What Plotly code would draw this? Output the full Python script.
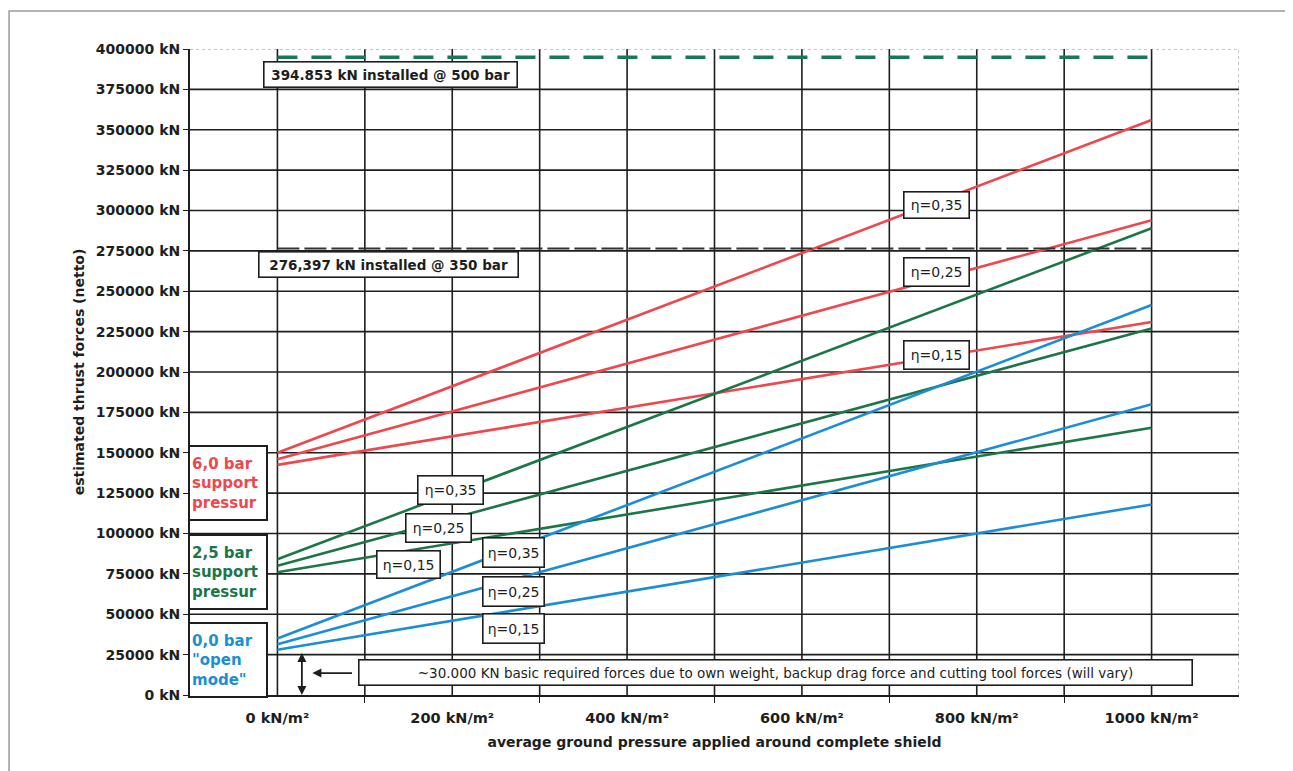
import plotly.graph_objects as go

# ---------------- data ----------------
ground_pressure = [0, 1000]  # kN/m²

red_eta035 = [150000, 356000]
red_eta025 = [146000, 294000]
red_eta015 = [142500, 231000]

green_eta035 = [84000, 289000]
green_eta025 = [80000, 227000]
green_eta015 = [76000, 165500]

blue_eta035 = [35000, 241500]
blue_eta025 = [31500, 180000]
blue_eta015 = [28000, 118000]

installed_500bar = [394853, 394853]
installed_350bar = [276397, 276397]

x_tick_vals = [0, 200, 400, 600, 800, 1000]
x_tick_text = ["0 kN/m²", "200 kN/m²", "400 kN/m²", "600 kN/m²", "800 kN/m²", "1000 kN/m²"]
x_minor_vals = [100, 300, 500, 700, 900]
x_grid_vals = [0, 100, 200, 300, 400, 500, 600, 700, 800, 900, 1000]
y_tick_vals = [0, 25000, 50000, 75000, 100000, 125000, 150000, 175000, 200000,
               225000, 250000, 275000, 300000, 325000, 350000, 375000, 400000]
y_tick_text = [f"{v} kN" for v in y_tick_vals]

X_RANGE = [-100, 1100]
Y_RANGE = [0, 400000]

RED = "rgb(236,72,78)"
GREEN = "rgb(28,118,72)"
BLUE = "rgb(28,142,212)"
DASH_GREEN = "rgb(22,120,84)"
INK = "#1e1e1e"
FONT = "DejaVu Sans, Verdana, sans-serif"

fig = go.Figure()

series = [
    (red_eta035, RED), (red_eta025, RED), (red_eta015, RED),
    (green_eta035, GREEN), (green_eta025, GREEN), (green_eta015, GREEN),
    (blue_eta035, BLUE), (blue_eta025, BLUE), (blue_eta015, BLUE),
]
for vals, col in series:
    fig.add_trace(go.Scatter(x=ground_pressure, y=vals, mode="lines",
                             line=dict(color=col, width=2.6), showlegend=False,
                             hoverinfo="skip"))

fig.add_trace(go.Scatter(x=ground_pressure, y=installed_500bar, mode="lines",
                         line=dict(color=DASH_GREEN, width=3.5, dash="20px,14px"),
                         showlegend=False, hoverinfo="skip"))
fig.add_trace(go.Scatter(x=ground_pressure, y=installed_350bar, mode="lines",
                         line=dict(color="#333333", width=2, dash="22px,5px"),
                         showlegend=False, hoverinfo="skip"))

shapes = []
# horizontal grid lines
for v in y_tick_vals[1:-1]:
    shapes.append(dict(type="line", xref="x", yref="y", x0=X_RANGE[0], x1=X_RANGE[1],
                       y0=v, y1=v, line=dict(color=INK, width=1.6), layer="below"))
# vertical grid lines
for v in x_grid_vals:
    shapes.append(dict(type="line", xref="x", yref="y", x0=v, x1=v,
                       y0=Y_RANGE[0], y1=Y_RANGE[1], line=dict(color=INK, width=1.6),
                       layer="below"))
# faint dotted top and right border
shapes.append(dict(type="line", xref="x", yref="y", x0=X_RANGE[0], x1=X_RANGE[1],
                   y0=Y_RANGE[1], y1=Y_RANGE[1],
                   line=dict(color="#8a8a8a", width=1, dash="dot"), layer="below"))
shapes.append(dict(type="line", xref="x", yref="y", x0=X_RANGE[1], x1=X_RANGE[1],
                   y0=Y_RANGE[0], y1=Y_RANGE[1],
                   line=dict(color="#8a8a8a", width=1, dash="dot"), layer="below"))
# outer frame of the scanned figure
shapes.append(dict(type="rect", xref="paper", yref="paper",
                   x0=-0.1725, x1=1.0486, y0=-0.2, y1=1.0588,
                   line=dict(color="#9a9a9a", width=1.5), fillcolor="rgba(0,0,0,0)"))

ann = []

def box(text, x, y, color=INK, size=14, width=None, height=None, bold=False,
        align="center", bw=1.6):
    ann.append(dict(text=text, x=x, y=y, xref="x", yref="y", showarrow=False,
                    font=dict(family=FONT, size=size, color=color,
                              weight="bold" if bold else "normal"),
                    bgcolor="white", bordercolor=INK, borderwidth=bw, borderpad=2,
                    width=width, height=height, align=align))

# support pressure boxes
box("6,0 bar<br>support<br>pressur", -57, 131000, color=RED, size=15, width=72,
    height=68, bold=True, align="left", bw=2)
box("2,5 bar<br>support<br>pressur", -57, 76000, color=GREEN, size=15, width=72,
    height=68, bold=True, align="left", bw=2)
box("0,0 bar<br>\"open<br>mode\"", -57, 21800, color=BLUE, size=15, width=72,
    height=68, bold=True, align="left", bw=2)

# installed force boxes
box("394.853 kN installed @ 500 bar", 129, 384100, size=13.5, width=248, height=20,
    bold=True)
box("276,397 kN installed @ 350 bar", 127, 266300, size=13.5, width=254, height=20,
    bold=True)

# eta labels
box("η=0,35", 754, 303400, size=14, width=60, height=21)
box("η=0,25", 754, 261900, size=14, width=60, height=23)
box("η=0,15", 754, 210500, size=14, width=60, height=23)

box("η=0,35", 198, 127000, size=14, width=60, height=23)
box("η=0,25", 184, 103400, size=14, width=60, height=23)
box("η=0,15", 150, 81100, size=14, width=58, height=22)

box("η=0,35", 270, 88500, size=14, width=56, height=24)
box("η=0,25", 270, 63800, size=14, width=56, height=24)
box("η=0,15", 270, 40900, size=14, width=56, height=24)

# basic required forces note
box("~30.000 KN basic required forces due to own weight, backup drag force and cutting tool forces (will vary)",
    570, 13900, size=13.5, width=828, height=20)

# arrows
ann.append(dict(x=28, y=0, ax=28, ay=27000, xref="x", yref="y", axref="x", ayref="y",
                text="", showarrow=True, arrowhead=2, arrowside="end+start",
                arrowsize=1, arrowwidth=1.8, arrowcolor=INK))
ann.append(dict(x=40, y=13600, ax=87, ay=13600, xref="x", yref="y", axref="x", ayref="y",
                text="", showarrow=True, arrowhead=2, arrowsize=1, arrowwidth=1.8,
                arrowcolor=INK))

fig.update_layout(
    width=1293, height=771,
    margin=dict(l=182, r=62, t=41, b=84),
    paper_bgcolor="white", plot_bgcolor="white",
    font=dict(family=FONT, color=INK),
    shapes=shapes, annotations=ann, showlegend=False,
)

fig.update_xaxes(
    range=X_RANGE, showgrid=False, zeroline=False,
    tickmode="array", tickvals=x_tick_vals, ticktext=x_tick_text,
    ticks="", ticklabelstandoff=9,
    tickfont=dict(family=FONT, size=14.5, color=INK, weight="bold"),
    showline=True, linecolor=INK, linewidth=1.8,
    minor=dict(tickmode="array", tickvals=x_minor_vals, ticks="outside",
               ticklen=6, tickcolor=INK, tickwidth=1.2, showgrid=False),
    title=dict(text="average ground pressure applied around complete shield",
               font=dict(family=FONT, size=14, color=INK, weight="bold"),
               standoff=12),
)
fig.update_yaxes(
    range=Y_RANGE, showgrid=False, zeroline=False,
    tickmode="array", tickvals=y_tick_vals, ticktext=y_tick_text,
    ticks="outside", ticklen=5, tickcolor=INK, tickwidth=1.2,
    tickfont=dict(family=FONT, size=14, color=INK, weight="bold"),
    showline=True, linecolor=INK, linewidth=2,
    title=dict(text="estimated thrust forces (netto)",
               font=dict(family=FONT, size=14, color=INK, weight="bold"),
               standoff=8),
)

fig.write_html("out.html")
